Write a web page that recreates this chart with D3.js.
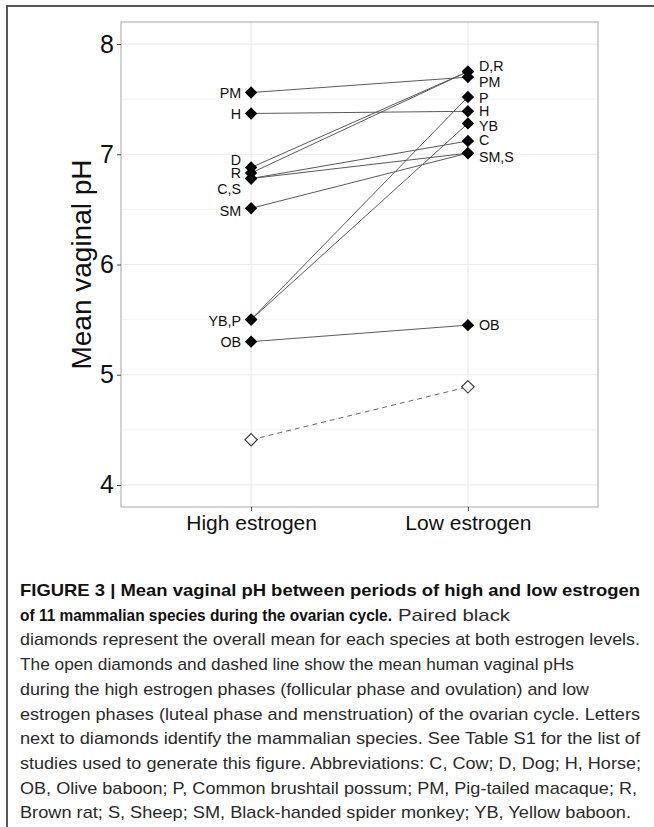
<!DOCTYPE html>
<html>
<head>
<meta charset="utf-8">
<script src="https://cdn.jsdelivr.net/npm/d3@7/dist/d3.min.js"></script>
<style>
  html, body { margin: 0; padding: 0; background: #fff; }
  svg { display: block; }
</style>
</head>
<body>
<svg id="chart" width="654" height="827"></svg>
<script>
// ---- data ----
const phases = ["High estrogen", "Low estrogen"];
const species = ["C", "D", "H", "OB", "P", "PM", "R", "S", "SM", "YB"];
const highPH = [6.78, 6.88, 7.37, 5.30, 5.50, 7.56, 6.83, 6.78, 6.51, 5.50];
const lowPH  = [7.12, 7.75, 7.39, 5.45, 7.52, 7.70, 7.75, 7.01, 7.01, 7.28];
const humanPH = [4.41, 4.89];
const yTicks = [4, 5, 6, 7, 8];
const yMinor = [4.5, 5.5, 6.5, 7.5];
// labels (text and the pH level where the label sits after repelling)
const leftLabels = ["PM", "H", "D", "R", "C,S", "SM", "YB,P", "OB"];
const leftLabelPH = [7.556, 7.365, 6.948, 6.83, 6.685, 6.485, 5.49, 5.30];
const rightLabels = ["D,R", "PM", "P", "H", "YB", "C", "SM,S", "OB"];
const rightLabelPH = [7.80, 7.655, 7.51, 7.39, 7.256, 7.13, 6.975, 5.45];

const captionLines = [
  {bold: "FIGURE 3 | Mean vaginal pH between periods of high and low estrogen", rest: "", end: 640},
  {bold: "of 11 mammalian species during the ovarian cycle.", rest: "Paired black", end: 392, restEnd: 510},
  {bold: "", rest: "diamonds represent the overall mean for each species at both estrogen levels.", restEnd: 640},
  {bold: "", rest: "The open diamonds and dashed line show the mean human vaginal pHs", restEnd: 574},
  {bold: "", rest: "during the high estrogen phases (follicular phase and ovulation) and low", restEnd: 589},
  {bold: "", rest: "estrogen phases (luteal phase and menstruation) of the ovarian cycle. Letters", restEnd: 640},
  {bold: "", rest: "next to diamonds identify the mammalian species. See Table S1 for the list of", restEnd: 640},
  {bold: "", rest: "studies used to generate this figure. Abbreviations: C, Cow; D, Dog; H, Horse;", restEnd: 641},
  {bold: "", rest: "OB, Olive baboon; P, Common brushtail possum; PM, Pig-tailed macaque; R,", restEnd: 637},
  {bold: "", rest: "Brown rat; S, Sheep; SM, Black-handed spider monkey; YB, Yellow baboon.", restEnd: 631}
];

// ---- layout ----
const svg = d3.select("#chart");
const font = "'Liberation Sans', Arial, Helvetica, sans-serif";
const panel = {left: 121, right: 598, top: 22, bottom: 507};

// outer frame
svg.append("line").attr("x1", 7).attr("x2", 654).attr("y1", 6).attr("y2", 6)
  .attr("stroke", "#555").attr("stroke-width", 2);
svg.append("line").attr("x1", 7).attr("x2", 7).attr("y1", 5).attr("y2", 827)
  .attr("stroke", "#555").attr("stroke-width", 2);

const x = d3.scalePoint().domain(phases).range([panel.left, panel.right]).padding(0.6);
const y = d3.scaleLinear().domain([3.8, 8.2]).range([panel.bottom, panel.top]);

const g = svg.append("g");

// panel background
g.append("rect").attr("x", panel.left).attr("y", panel.top)
  .attr("width", panel.right - panel.left).attr("height", panel.bottom - panel.top)
  .attr("fill", "#fff");

// minor grid
g.selectAll(".minor").data(yMinor).join("line")
  .attr("x1", panel.left).attr("x2", panel.right)
  .attr("y1", d => y(d)).attr("y2", d => y(d))
  .attr("stroke", "#f3f3f3").attr("stroke-width", 1);
// major grid
g.selectAll(".major").data(yTicks).join("line")
  .attr("x1", panel.left).attr("x2", panel.right)
  .attr("y1", d => y(d)).attr("y2", d => y(d))
  .attr("stroke", "#ebebeb").attr("stroke-width", 1.2);
g.selectAll(".vgrid").data(phases).join("line")
  .attr("x1", d => x(d)).attr("x2", d => x(d))
  .attr("y1", panel.top).attr("y2", panel.bottom)
  .attr("stroke", "#ebebeb").attr("stroke-width", 1.2);

// panel border
g.append("rect").attr("x", panel.left).attr("y", panel.top)
  .attr("width", panel.right - panel.left).attr("height", panel.bottom - panel.top)
  .attr("fill", "none").attr("stroke", "#b5b5b5").attr("stroke-width", 1.2);

// axes
const yAxis = d3.axisLeft(y).tickValues(yTicks).tickFormat(d3.format("d")).tickSize(4).tickPadding(3);
const yg = svg.append("g").attr("transform", `translate(${panel.left},0)`).call(yAxis);
yg.select(".domain").remove();
yg.selectAll(".tick line").attr("stroke", "#444");
yg.selectAll(".tick text").attr("font-family", font).attr("font-size", 25).attr("fill", "#111");

const xAxis = d3.axisBottom(x).tickSize(4).tickPadding(4);
const xg = svg.append("g").attr("transform", `translate(0,${panel.bottom})`).call(xAxis);
xg.select(".domain").remove();
xg.selectAll(".tick line").attr("stroke", "#444");
xg.selectAll(".tick text").attr("font-family", font).attr("font-size", 21).attr("fill", "#111");

// y title
svg.append("text")
  .attr("transform", `translate(91,${(panel.top + panel.bottom) / 2}) rotate(-90)`)
  .attr("text-anchor", "middle")
  .attr("font-family", font).attr("font-size", 28).attr("fill", "#111")
  .text("Mean vaginal pH");

// connecting lines
const pairs = species.map((s, i) => ({s, h: highPH[i], l: lowPH[i]}));
g.selectAll(".pair").data(pairs).join("line")
  .attr("x1", x(phases[0])).attr("x2", x(phases[1]))
  .attr("y1", d => y(d.h)).attr("y2", d => y(d.l))
  .attr("stroke", "#5a5a5a").attr("stroke-width", 1);

// human dashed line
g.append("line")
  .attr("x1", x(phases[0])).attr("x2", x(phases[1]))
  .attr("y1", y(humanPH[0])).attr("y2", y(humanPH[1]))
  .attr("stroke", "#666").attr("stroke-width", 1).attr("stroke-dasharray", "5,4");

const diamond = r => `M0,${-r}L${r},0L0,${r}L${-r},0Z`;

// filled diamonds
const pts = [];
pairs.forEach(d => { pts.push({p: phases[0], v: d.h}); pts.push({p: phases[1], v: d.l}); });
g.selectAll(".pt").data(pts).join("path")
  .attr("d", diamond(6.2))
  .attr("transform", d => `translate(${x(d.p)},${y(d.v)})`)
  .attr("fill", "#000");

// open diamonds
g.selectAll(".hpt").data(humanPH).join("path")
  .attr("d", diamond(6.2))
  .attr("transform", (d, i) => `translate(${x(phases[i])},${y(d)})`)
  .attr("fill", "#fff").attr("stroke", "#333").attr("stroke-width", 1.1);

// labels
g.selectAll(".ll").data(leftLabels).join("text")
  .attr("x", x(phases[0]) - 10)
  .attr("y", (d, i) => y(leftLabelPH[i]))
  .attr("dy", "0.36em")
  .attr("text-anchor", "end")
  .attr("font-family", font).attr("font-size", 14.3).attr("fill", "#111")
  .text(d => d);
g.selectAll(".rl").data(rightLabels).join("text")
  .attr("x", x(phases[1]) + 11)
  .attr("y", (d, i) => y(rightLabelPH[i]))
  .attr("dy", "0.36em")
  .attr("text-anchor", "start")
  .attr("font-family", font).attr("font-size", 14.3).attr("fill", "#111")
  .text(d => d);

// caption
const capX = 20, capY0 = 596, capDy = 24.7;
captionLines.forEach((ln, i) => {
  const yy = capY0 + i * capDy;
  const t = svg.append("text").attr("x", capX).attr("y", yy)
    .attr("font-family", font).attr("font-size", 17);
  let cur = capX;
  if (ln.bold) {
    t.append("tspan").attr("x", cur)
      .attr("font-weight", "bold").attr("fill", "#111")
      .attr("textLength", ln.end - cur).attr("lengthAdjust", "spacingAndGlyphs")
      .text(ln.bold);
    cur = ln.end + 6;
  }
  if (ln.rest) {
    t.append("tspan").attr("x", cur)
      .attr("fill", "#2a2a2a")
      .attr("textLength", ln.restEnd - cur).attr("lengthAdjust", "spacingAndGlyphs")
      .text(ln.rest);
  }
});
</script>
</body>
</html>
